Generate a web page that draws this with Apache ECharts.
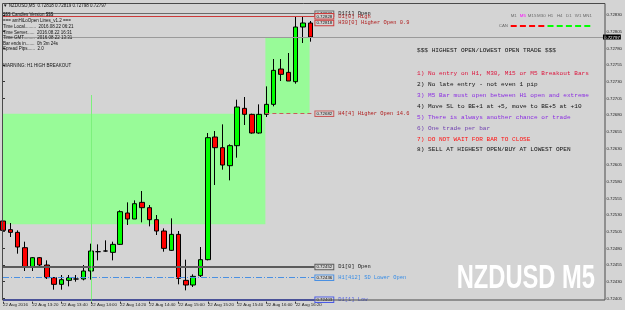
<!DOCTYPE html>
<html><head><meta charset="utf-8">
<script src="https://cdn.jsdelivr.net/npm/echarts@6/dist/echarts.min.js"></script>
<style>html,body{margin:0;padding:0;background:#d4d4d4}#c{width:625px;height:310px}</style>
</head><body><div id="c"></div>
<script>
// ---- data (NZDUSD M5, 22 Aug 2016) ----
const barTimes = ['13:00','13:05','13:10','13:15','13:20','13:25','13:30','13:35','13:40','13:45','13:50','13:55',
  '14:00','14:05','14:10','14:15','14:20','14:25','14:30','14:35','14:40','14:45','14:50','14:55',
  '15:00','15:05','15:10','15:15','15:20','15:25','15:30','15:35','15:40','15:45','15:50','15:55',
  '16:00','16:05','16:10','16:15','16:20','16:25','16:30'];
const opens  = [0.72521,0.72508,0.72504,0.72481,0.72452,0.72466,0.72455,0.72436,0.72426,0.72432,0.72434,0.72434,
  0.72446,0.72475,0.72476,0.72474,0.72486,0.72533,0.72524,0.72549,0.72541,0.72523,0.72506,0.72477,
  0.72501,0.72432,0.72425,0.72439,0.72463,0.72647,0.72631,0.72604,0.72634,0.72690,0.72681,0.72653,
  0.72681,0.72696,0.72749,0.72744,0.72730,0.72812,0.72818];
const closes = [0.72507,0.72504,0.72482,0.72452,0.72466,0.72455,0.72436,0.72426,0.72433,0.72436,0.72434,0.72446,
  0.72476,0.72475,0.72476,0.72486,0.72535,0.72524,0.72547,0.72541,0.72523,0.72506,0.72480,0.72501,
  0.72435,0.72425,0.72438,0.72463,0.72646,0.72631,0.72605,0.72634,0.72692,0.72681,0.72653,0.72681,
  0.72696,0.72747,0.72741,0.72731,0.72812,0.72818,0.72797];
const lows   = [0.72495,0.72497,0.72472,0.72446,0.72446,0.72453,0.72434,0.72418,0.72418,0.72423,0.72430,0.72432,
  0.72433,0.72462,0.72475,0.72462,0.72485,0.72515,0.72524,0.72519,0.72513,0.72500,0.72475,0.72476,
  0.72426,0.72417,0.72422,0.72437,0.72462,0.72575,0.72598,0.72582,0.72616,0.72665,0.72652,0.72652,
  0.72677,0.72693,0.72731,0.72731,0.72727,0.72788,0.72790];
const highs  = [0.72525,0.72518,0.72507,0.72490,0.72467,0.72467,0.72462,0.72437,0.72440,0.72440,0.72440,0.72455,
  0.72487,0.72486,0.72492,0.72490,0.72537,0.72549,0.72552,0.72566,0.72545,0.72530,0.72510,0.72525,
  0.72506,0.72463,0.72441,0.72482,0.72653,0.72656,0.72666,0.72636,0.72703,0.72707,0.72682,0.72696,
  0.72723,0.72764,0.72764,0.72773,0.72827,0.72827,0.72821];

const xTickIdx    = [0,4,8,12,16,20,24,28,32,36,40];
const xTickLabels = ['22 Aug 2016','22 Aug 13:20','22 Aug 13:40','22 Aug 14:00','22 Aug 14:20','22 Aug 14:40',
  '22 Aug 15:00','22 Aug 15:20','22 Aug 15:40','22 Aug 16:00','22 Aug 16:20'];
const yTickValues = [0.72405,0.72430,0.72455,0.72480,0.72505,0.72530,0.72555,0.72580,0.72605,
  0.72630,0.72655,0.72680,0.72705,0.72730,0.72755,0.72780,0.72805,0.72830];

// horizontal level lines (amHiLoOpen)
const levelNames  = ['D1[1] Open','D1[0] High','H30[0] Higher Open 0.9','H4[4] Higher Open 14.6','D1[0] Open','H1[412] SD Lower Open','D1[1] Low'];
const levelPrices = [0.72832,0.72828,0.72818,0.72682,0.72452,0.72436,0.72403];
const levelFrom   = [0,0,40,35.86,0,0,0];
const levelTo     = 42.56;
const bidPrice    = 0.72797;

// green zones [fromBar, toBar, lowPrice, highPrice]
const zoneFrom = [0, 35.86];
const zoneTo   = [35.86, 41.9];
const zoneLow  = [0.72516, 0.72682];
const zoneHigh = [0.72682, 0.72797];

// H1 separator
const sepBar = 12, sepTop = 0.72710, sepBottom = 0.72400;

const infoLines = ['$$$ Candles Version $$$','=== amHiLoOpen Lines_v1.2 ===','Time Local.........  2016.08.22 06:21',
  'Time Server......  2016.08.22 16:31','Time GMT.........  2016.08.22 13:31','Bar ends in.......  0h 3m 24s',
  'Spread Pips......  2.0'];
const ruleLines = ['$$$ HIGHEST OPEN/LOWEST OPEN TRADE $$$','1) No entry on H1, M30, M15 or M5 Breakout Bars',
  '2) No late entry - not even 1 pip','3) M5 Bar must open between H1 open and extreme',
  '4) Move SL to BE+1 at +5, move to BE+5 at +10','5) There is always another chance or trade',
  '6) One trade per bar','7) DO NOT WAIT FOR BAR TO CLOSE','8) SELL AT HIGHEST OPEN/BUY AT LOWEST OPEN'];
const tfLabels = ['M1','M5','M15','M30','H1','H4','D1','W1','MN1'];
const tfDir    = ['dn','dn','dn','dn','up','up','up','up','up'];

// ---- styles ----
const levelLineColors = ['#6a6a6a','#cc3a3a','rgba(0,0,0,0)','#c85a5a','#5a5a5a','#4a90e2','#4a5ae6'];
const levelBoxColors  = ['#6a6a6a','#cc3a3a','#cc3a3a','#c85a5a','#5a5a5a','#4a90e2','#4a5ae6'];
const levelTextColors = ['#1a1a1a','#b02020','#b02020','#b02020','#1a1a1a','#3a8ee6','#4a5ae6'];
const levelTypes = ['solid','solid','solid',[4,3],'solid',[6,2,1,2],'solid'];
const levelWidths = [1,1,1,1,2,1,2];
const ruleColors = ['#111','#dc143c','#111','#8a2be2','#111','#8a2be2','#7040b0','#ff1010','#111'];
const ruleY = [50.7,73.3,84,95,106,117.3,128.3,139,149.3];
const infoY = [15,21,26.7,32.3,37.7,43.3,49];

const candleData = opens.map((o,i)=>[i, o, closes[i], lows[i], highs[i]]);

const markLineData = levelNames.map((n,i)=>[
  {coord:[levelFrom[i], levelPrices[i]],
   lineStyle:{color:levelLineColors[i], type:levelTypes[i], width:levelWidths[i]},
   label:{show:true, position:'end', distance:1,
     formatter:'{b|'+levelPrices[i].toFixed(5)+'}{n|'+n+'}',
     rich:{b:{fontSize:4.4, fontFamily:'Liberation Sans', color:'#111', borderColor:levelBoxColors[i], borderWidth:1,
              padding:[0.5,1,0,1], backgroundColor:'#d4d4d4', lineHeight:6},
           n:{fontSize:5.4, fontFamily:'Liberation Mono', color:levelTextColors[i], padding:[0,0,0,5]}}}},
  {coord:[levelTo, levelPrices[i]]}
]);
markLineData.push([
  {coord:[0,bidPrice], lineStyle:{color:'#9a9a9a', type:'solid', width:1},
   label:{show:true, position:'end', distance:0, formatter:'{k|'+bidPrice.toFixed(5)+'}',
     rich:{k:{backgroundColor:'#000', color:'#fff', fontSize:4.4, fontFamily:'Liberation Sans', padding:[1,1,0,1]}}}},
  {coord:[82,bidPrice]}
]);
markLineData.push([
  {coord:[sepBar, sepTop], lineStyle:{color:'#7cf07c', type:'solid', width:1}, label:{show:false}},
  {coord:[sepBar, sepBottom]}
]);

const graphics = [];
graphics.push({type:'rect', z:50, silent:true, shape:{x:2.5,y:3.5,width:602.5,height:296.5},
  style:{fill:null, stroke:'#4a4a4a', lineWidth:1}});
graphics.push({type:'text', z:60, x:3, y:5.5, style:{text:'\u25BC NZDUSD,M5  0.72818 0.72819 0.72798 0.72797',
  font:'4.5px "Liberation Sans"', fill:'#111', verticalAlign:'middle'}});
infoLines.forEach((t,i)=>graphics.push({type:'text', z:60, x:3, y:infoY[i],
  style:{text:t, font:'4.5px "Liberation Sans"', fill:'#111', verticalAlign:'middle'}}));
graphics.push({type:'text', z:60, x:3, y:65.7, style:{text:'WARNING: H1 HIGH BREAKOUT',
  font:'4.5px "Liberation Sans"', fill:'#111', verticalAlign:'middle'}});
ruleLines.forEach((t,i)=>graphics.push({type:'text', z:60, x:417, y:ruleY[i],
  style:{text:t, font:'6.1px "Liberation Mono"', fill:ruleColors[i], verticalAlign:'middle'}}));
tfLabels.forEach((t,i)=>{
  const cx = 513.7 + 9.2*i;
  graphics.push({type:'text', z:60, x:cx, y:15.5, style:{text:t, font:'4.4px "Liberation Sans"',
    fill: t==='M5' ? '#ff00ff' : '#6a6a6a', align:'center', verticalAlign:'middle'}});
  graphics.push({type:'rect', z:60, shape:{x:cx-3, y:25, width:6, height:2},
    style:{fill: tfDir[i]==='dn' ? '#ff0000' : '#00ff00'}});
});
graphics.push({type:'text', z:60, x:508, y:26, style:{text:'CAN', font:'4.4px "Liberation Sans"',
  fill:'#6a6a6a', align:'right', verticalAlign:'middle'}});
graphics.push({type:'text', z:40, x:456.7, y:279, scaleX:0.718, style:{text:'NZDUSD M5',
  font:'bold 33px "Liberation Sans"', fill:'#ffffff', verticalAlign:'middle'}});

const chart = echarts.init(document.getElementById('c'), null, {renderer:'canvas'});
chart.setOption({
  animation:false,
  backgroundColor:'#d4d4d4',
  grid:{left:2, right:20, top:1.68, bottom:8.32, containLabel:false},
  xAxis:{type:'value', min:0, max:82, interval:4,
    axisLine:{show:false}, splitLine:{show:false},
    axisTick:{show:true, customValues:xTickIdx, length:2, lineStyle:{color:'#333'}},
    axisLabel:{customValues:xTickIdx, fontSize:4.4, fontFamily:'Liberation Sans', color:'#222', align:'left', margin:1.5,
      formatter:v=>{const k=xTickIdx.indexOf(Math.round(v)); return (k>=0 && Math.abs(v-xTickIdx[k])<1e-6)?xTickLabels[k]:'';}}},
  yAxis:{type:'value', position:'right', min:0.724, max:0.7285, interval:0.00005, scale:true,
    axisLine:{show:false}, splitLine:{show:false},
    axisTick:{show:true, customValues:yTickValues, length:2, lineStyle:{color:'#333'}},
    axisLabel:{customValues:yTickValues, fontSize:4.3, fontFamily:'Liberation Sans', color:'#222', margin:3.5,
      formatter:v=>yTickValues.some(t=>Math.abs(t-v)<1e-7)?v.toFixed(5):''}},
  series:[{
    type:'candlestick', data:candleData, encode:{x:0, y:[1,2,3,4]}, barWidth:5, z:5,
    itemStyle:{color:'#00ff00', color0:'#ff0000', borderColor:'#000', borderColor0:'#000', borderColorDoji:'#000', borderWidth:1},
    markArea:{silent:true, z:1, itemStyle:{color:'#98fb98'},
      data: zoneFrom.map((f,i)=>[{xAxis:f, yAxis:zoneLow[i]},{xAxis:zoneTo[i], yAxis:zoneHigh[i]}])},
    markLine:{silent:true, symbol:['none','none'], z:6, data:markLineData}
  }],
  graphic:graphics
});
</script></body></html>
